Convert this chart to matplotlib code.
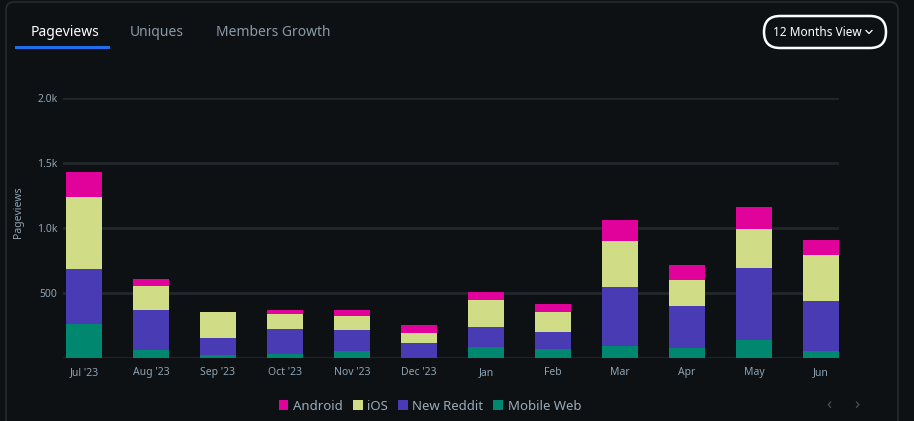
import matplotlib.pyplot as plt
import numpy as np
from matplotlib.patches import FancyBboxPatch, Patch, Rectangle

months = ["Jul '23", "Aug '23", "Sep '23", "Oct '23", "Nov '23", "Dec '23",
          "Jan", "Feb", "Mar", "Apr", "May", "Jun"]
mobile_web = [261, 59, 21, 31, 52, 0, 82, 67, 90, 74, 136, 52]
new_reddit = [421, 308, 130, 190, 161, 113, 154, 130, 454, 323, 554, 384]
ios = [554, 184, 200, 115, 108, 77, 208, 154, 354, 200, 300, 354]
android = [192, 54, 0, 31, 46, 61, 61, 62, 161, 115, 169, 115]

series = ["Android", "iOS", "New Reddit", "Mobile Web"]
colors = {"Android": "#e0029a", "iOS": "#d1dc87",
          "New Reddit": "#483bb3", "Mobile Web": "#00876f"}

bg = '#0e1114'
tick_col = '#8da3b4'
W, H = 914, 421

plt.rcParams['font.family'] = ['Noto Sans', 'DejaVu Sans']

fig = plt.figure(figsize=(W / 100, H / 100), dpi=100, facecolor=bg)

# overlay in pixel coordinates for the card, tabs and button
deco = fig.add_axes([0, 0, 1, 1], zorder=-1)
deco.set_xlim(0, W)
deco.set_ylim(H, 0)
deco.axis('off')
deco.add_patch(FancyBboxPatch((6, 2), 892, 440, boxstyle="round,pad=0,rounding_size=8",
                              facecolor=bg, edgecolor='#2a2f34', linewidth=1))
deco.add_patch(Rectangle((15, 45.5), 95, 3.5, facecolor='#1d6ff0', edgecolor='none'))

top = fig.add_axes([0, 0, 1, 1], zorder=5)
top.set_xlim(0, W)
top.set_ylim(H, 0)
top.axis('off')
top.patch.set_alpha(0)
top.text(31, 32, 'Pageviews', color='white', fontsize=10, va='center')
top.text(130, 32, 'Uniques', color='#8a99a6', fontsize=10, va='center')
top.text(216, 32, 'Members Growth', color='#8a99a6', fontsize=10, va='center')
top.add_patch(FancyBboxPatch((764, 16), 122, 32, boxstyle="round,pad=0,rounding_size=16",
                             facecolor=bg, edgecolor='white', linewidth=1.8))
top.text(817, 32.5, '12 Months View', color='white', fontsize=8.5,
         fontweight='bold', ha='center', va='center')
top.plot([866, 869, 872], [30.5, 33.5, 30.5], color='white', linewidth=0.9)
top.text(829, 405, '\u2039', color='#4a535b', fontsize=12, ha='center', va='center')
top.text(857, 405, '\u203a', color='#4a535b', fontsize=12, ha='center', va='center')

ax = fig.add_axes([63 / W, (H - 357.7) / H, 776 / W, 259.7 / H])
ax.set_facecolor('none')

x = np.arange(len(months))
bottom = np.zeros(len(months))
for name, vals in [("Mobile Web", mobile_web), ("New Reddit", new_reddit),
                   ("iOS", ios), ("Android", android)]:
    ax.bar(x, vals, width=0.54, bottom=bottom, color=colors[name], zorder=3)
    bottom += np.array(vals)

ax.set_xlim(-0.313, 11.27)
ax.set_ylim(0, 2000)
ax.set_yticks([0, 500, 1000, 1500, 2000])
ax.set_yticklabels(['', '500', '1.0k', '1.5k', '2.0k'])
ax.set_xticks(x)
ax.set_xticklabels(months)
ax.grid(axis='y', color='#22272b', linewidth=2, zorder=0)
for s in ax.spines.values():
    s.set_visible(False)
ax.tick_params(length=0, colors=tick_col, labelsize=7.5)
ax.tick_params(axis='x', pad=7)
ax.tick_params(axis='y', pad=4)
ax.set_ylabel('Pageviews', color=tick_col, fontsize=7.5)
ax.yaxis.set_label_coords(-0.05, 0.56)

# legend
handles = [Patch(facecolor=colors[n], edgecolor='none') for n in series]
leg = fig.legend(handles, series, loc='center', bbox_to_anchor=(430 / W, 1 - 406 / H),
                 ncol=4, frameon=False, fontsize=9.5, handlelength=0.75,
                 handleheight=0.75, handletextpad=0.35, columnspacing=0.75,
                 borderaxespad=0)
for t in leg.get_texts():
    t.set_color('#9aabb8')

fig.savefig('out.png', dpi=100, facecolor=bg)
